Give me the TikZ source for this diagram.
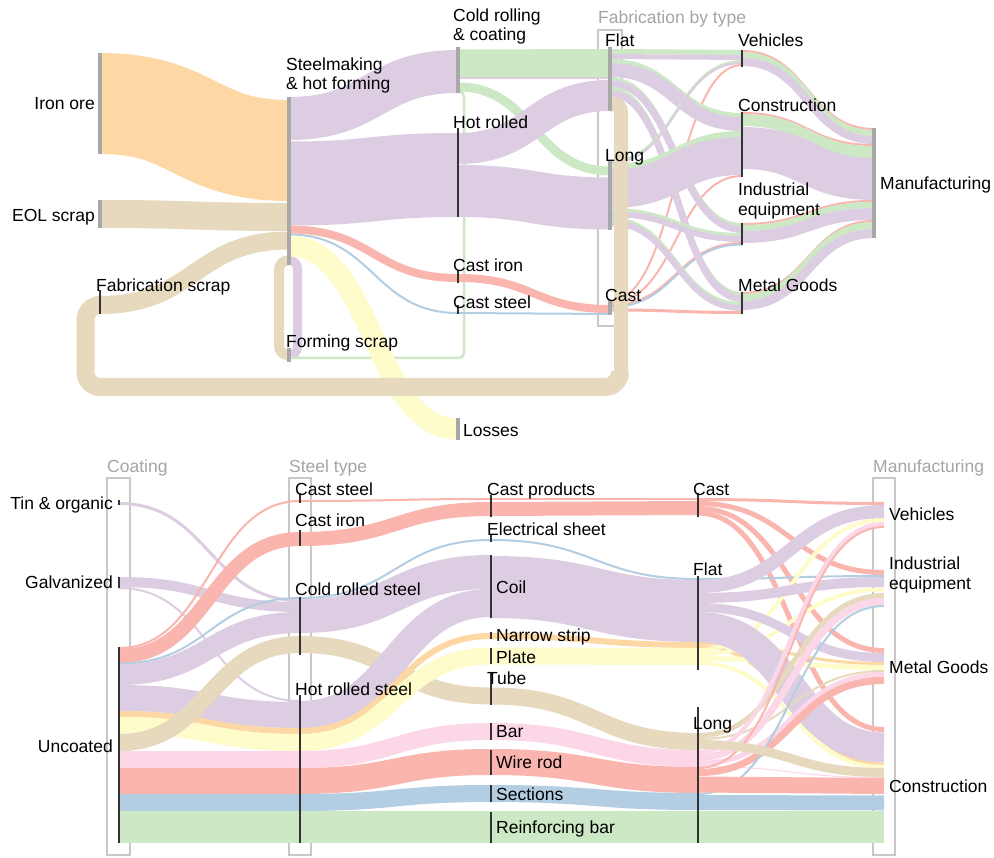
\documentclass[tikz,border=0pt]{standalone}
\usepackage{fontspec}
\setmainfont{Liberation Sans}
\definecolor{cPur}{HTML}{DCCDE3}
\definecolor{cGrn}{HTML}{CCE8C5}
\definecolor{cBei}{HTML}{E6D9BD}
\definecolor{cRed}{HTML}{F9B5AE}
\definecolor{cBlu}{HTML}{B3CDE2}
\definecolor{cYel}{HTML}{FEFCCB}
\definecolor{cPnk}{HTML}{FBD7E8}
\definecolor{cOra}{HTML}{FDD8A4}
\definecolor{cBar}{HTML}{A8A8A8}
\definecolor{cBox}{HTML}{C8C8C8}
\definecolor{cTit}{HTML}{A5A5A5}
\definecolor{cTick}{HTML}{333333}
\newcommand\lk[6]{\draw[#1,line width=#2pt] (#3,#4) .. controls ({(#3+#5)/2},#4) and ({(#3+#5)/2},#6) .. (#5,#6);}
\newcommand\gb[3]{\fill[cBar] ({#1-2.2},#2) rectangle ({#1+2.2},#3);}
\newcommand\tk[3]{\draw[tickline] (#1,#2) -- (#1,#3);}
\begin{document}
\begin{tikzpicture}[x=1pt,y=-1pt,
 lbl/.style={font=\fontsize{17.5}{20}\selectfont, inner sep=0pt, anchor=base west},
 lblr/.style={lbl, anchor=base east},
 ttl/.style={lbl, text=cTit},
 tickline/.style={draw=cTick, line width=1.1pt},
 boxs/.style={draw=cBox, line width=1.2pt}]
\useasboundingbox (0,0) rectangle (994,858);
\fill[white] (0,0) rectangle (994,858);

% boxes
\draw[boxs] (598,30) rectangle (622,326);
\draw[boxs] (107,478) rectangle (130,855);
\draw[boxs] (289,478) rectangle (311,855);
\draw[boxs] (873,478) rectangle (895,855);

% ================= TOP =================
\lk{cOra}{101}{100}{103.5}{289}{150.5}
\lk{cBei}{28}{100}{214}{289}{217}
\lk{cBei}{18}{100}{305}{289}{240.5}
\draw[cBei,line width=10pt,rounded corners=9pt] (289,260.5) -- (279,260.5) -- (279,355) -- (289,355);
\draw[cPur,line width=9pt,rounded corners=8pt] (289,260.5) -- (297.5,260.5) -- (297.5,355) -- (289,355);
\draw[cGrn,line width=2.5pt,rounded corners=5pt] (458,91.5) -- (464,91.5) -- (464,358) -- (289,358);
\lk{cPur}{43}{289}{118.5}{458}{71.5}
\lk{cPur}{84}{289}{183.5}{458}{175}
\lk{cRed}{8}{289}{229.5}{458}{278}
\lk{cBlu}{2}{289}{234.5}{458}{313}
\lk{cYel}{21}{289}{246}{458}{429}
\lk{cRed}{8}{458}{278}{610}{309}
\lk{cBlu}{2}{458}{313}{610}{314}
\lk{cGrn}{28}{458}{63.5}{610}{63}
\lk{cPur}{2}{458}{78.5}{610}{78.5}
\lk{cGrn}{9}{458}{87}{610}{171}
\lk{cPur}{31}{458}{148.5}{610}{95.5}
\lk{cPur}{52}{458}{191}{610}{203.5}

% Cast -> sectors
\lk{cRed}{2}{610}{301}{742}{65}
\lk{cRed}{2}{610}{303}{742}{176}
\lk{cRed}{2}{610}{305}{742}{243}
\lk{cBlu}{2}{610}{307}{742}{244.5}
\lk{cRed}{3}{610}{310}{742}{312.5}
% Flat -> sectors
\lk{cGrn}{5}{610}{51.5}{742}{52.5}
\lk{cPur}{5}{610}{56.5}{742}{57.5}
\lk{cGrn}{4}{610}{61}{742}{115}
\lk{cPur}{14}{610}{70}{742}{124}
\lk{cGrn}{3}{610}{78.5}{742}{224.5}
\lk{cPur}{7}{610}{83.5}{742}{229.5}
\lk{cGrn}{3}{610}{88.5}{742}{293.5}
\lk{cPur}{7}{610}{93.5}{742}{298.5}
% Long -> sectors
\lk{cGrn}{2}{610}{161}{742}{61}
\lk{cPur}{2}{610}{163}{742}{63}
\lk{cGrn}{3}{610}{209.5}{742}{234.5}
\lk{cPur}{6}{610}{214}{742}{239}
\lk{cGrn}{3}{610}{218.5}{742}{303.5}
\lk{cPur}{6}{610}{223}{742}{308}
\lk{cGrn}{6}{610}{167}{742}{134}
\lk{cPur}{38}{610}{189}{742}{156}
% sectors -> Manufacturing
\lk{cRed}{2}{742}{51}{874}{129}
\lk{cGrn}{6}{742}{55}{874}{133}
\lk{cPur}{8}{742}{62}{874}{140}
\lk{cRed}{2}{742}{113}{874}{145}
\lk{cGrn}{12}{742}{120}{874}{152}
\lk{cPur}{42}{742}{148}{874}{179}
\lk{cRed}{2}{742}{224}{874}{201}
\lk{cGrn}{6}{742}{228}{874}{205}
\lk{cPur}{12}{742}{237}{874}{214}
\lk{cRed}{2}{742}{293}{874}{221}
\lk{cGrn}{7}{742}{297.5}{874}{225.5}
\lk{cPur}{9}{742}{305.5}{874}{233.5}
% fabrication scrap loop
\draw[cBei,line width=14pt,rounded corners=7pt] (610,104.5) -- (621,104.5) -- (621,380);
\draw[cBei,line width=18pt,rounded corners=15pt] (620,372) -- (620,387) -- (85.5,387) -- (85.5,305) -- (100,305);

% top bars and ticks
\gb{100}{53}{154}
\gb{100}{200}{228}
\tk{100}{290}{314}
\gb{289}{97}{265}
\gb{458}{47}{93}
\tk{458}{128}{217}
\tk{458}{270}{283}
\tk{458}{305}{314}
\gb{458}{418}{440}
\gb{289}{348}{362}
\gb{610}{47}{111}
\gb{610}{160}{230}
\gb{610}{300}{315}
\tk{742}{50}{67}
\tk{742}{112}{177}
\tk{742}{223}{245}
\tk{742}{292}{314}
\gb{874}{128}{238}

% top labels
\node[lblr] (ironore) at (95,110) {Iron ore};
\node[lblr] (eol) at (95,222) {EOL scrap};
\node[lbl] (fabscrap) at (96,292) {Fabrication scrap};
\node[lbl] (steel1) at (286,71) {Steelmaking};
\node[lbl] (steel2) at (286,90) {\& hot forming};
\node[lbl] (cold1) at (453,22) {Cold rolling};
\node[lbl] (cold2) at (453,41) {\& coating};
\node[lbl] (hotr) at (453,129) {Hot rolled};
\node[lbl] (castiron) at (453,272) {Cast iron};
\node[lbl] (caststeel) at (453,309) {Cast steel};
\node[lbl] (formscrap) at (286,348) {Forming scrap};
\node[lbl] (losses) at (463,437) {Losses};
\node[ttl] (fabtype) at (598,24) {Fabrication by type};
\node[lbl] (flat) at (605,47) {Flat};
\node[lbl] (long) at (605,162) {Long};
\node[lbl] (cast) at (605,302) {Cast};
\node[lbl] (vehicles) at (738,47) {Vehicles};
\node[lbl] (construction) at (738,112) {Construction};
\node[lbl] (indeq1) at (738,196) {Industrial};
\node[lbl] (indeq2) at (738,216) {equipment};
\node[lbl] (metal) at (738,292) {Metal Goods};
\node[lbl] (manuf) at (880,190) {Manufacturing};

% ================= BOTTOM =================
% Coating -> Steel type
\lk{cPur}{3}{119}{503.5}{300}{600.5}
\lk{cPur}{10}{119}{582}{300}{607}
\lk{cPur}{2}{119}{588}{300}{701}
\lk{cRed}{2}{119}{648}{300}{501}
\lk{cRed}{14}{119}{656}{300}{539}
\lk{cBlu}{2}{119}{663.5}{300}{598}
\lk{cPur}{21}{119}{674.5}{300}{622.5}
\lk{cPur}{26}{119}{698}{300}{715}
\lk{cOra}{6}{119}{714}{300}{731}
\lk{cYel}{17}{119}{725.5}{300}{742.5}
\lk{cBei}{17}{119}{742.5}{300}{644.5}
\lk{cPnk}{17}{119}{759.5}{300}{759.5}
\lk{cRed}{26}{119}{781}{300}{781}
\lk{cBlu}{17}{119}{802.5}{300}{802.5}
\lk{cGrn}{32}{119}{827}{300}{827}
% Steel type -> products
\lk{cRed}{2}{300}{501}{491}{499}
\lk{cRed}{14}{300}{539}{491}{509}
\lk{cBlu}{2}{300}{598}{491}{540}
\lk{cPur}{34}{300}{616}{491}{572}
\lk{cBei}{17}{300}{644.5}{491}{696}
\lk{cPur}{28}{300}{715}{491}{603}
\lk{cOra}{6}{300}{731}{491}{636}
\lk{cYel}{17}{300}{742.5}{491}{656}
\lk{cPnk}{17}{300}{759.5}{491}{731.5}
\lk{cRed}{26}{300}{781}{491}{762}
\lk{cBlu}{17}{300}{802.5}{491}{793.5}
\lk{cGrn}{32}{300}{827}{491}{827}
% products -> fabrication
\lk{cRed}{2}{491}{499}{698}{499}
\lk{cRed}{14}{491}{509}{698}{508}
\lk{cBlu}{2}{491}{540}{698}{579}
\lk{cPur}{62}{491}{587}{698}{611}
\lk{cOra}{6}{491}{636}{698}{645}
\lk{cYel}{17}{491}{656}{698}{656.5}
\lk{cBei}{17}{491}{696}{698}{741.5}
\lk{cPnk}{17}{491}{731.5}{698}{758.5}
\lk{cRed}{26}{491}{762}{698}{780}
\lk{cBlu}{17}{491}{793.5}{698}{801.5}
\lk{cGrn}{32}{491}{827}{698}{827}
% Cast -> sectors
\lk{cRed}{3}{698}{499.5}{884}{503.5}
\lk{cRed}{5}{698}{503.5}{884}{572.5}
\lk{cRed}{5}{698}{508.5}{884}{650.5}
\lk{cRed}{5}{698}{513}{884}{729.5}
% Flat -> sectors
\lk{cBlu}{2}{698}{579}{884}{576}
\lk{cOra}{3}{698}{643.5}{884}{663.5}
\lk{cOra}{3}{698}{646.5}{884}{764}
\lk{cYel}{4}{698}{650}{884}{520}
\lk{cYel}{4}{698}{654}{884}{589.5}
\lk{cYel}{5}{698}{658.5}{884}{667.5}
\lk{cYel}{4}{698}{663}{884}{767}
\lk{cPur}{13}{698}{586.5}{884}{511.5}
\lk{cPur}{10}{698}{598}{884}{582}
\lk{cPur}{9}{698}{607.5}{884}{657.5}
\lk{cPur}{30}{698}{627}{884}{747.5}
% Long -> sectors
\lk{cBei}{5}{698}{735.5}{884}{595.5}
\lk{cBei}{2}{698}{739}{884}{671}
\lk{cPnk}{4}{698}{752}{884}{524}
\lk{cPnk}{7}{698}{757.5}{884}{601.5}
\lk{cPnk}{5}{698}{763.5}{884}{674.5}
\lk{cPnk}{1}{698}{766.5}{884}{777.5}
\lk{cRed}{2}{698}{768}{884}{527}
\lk{cRed}{7}{698}{772.5}{884}{680.5}
\lk{cBlu}{2}{698}{794}{884}{606}
\lk{cBei}{9}{698}{744.5}{884}{772.5}
\lk{cRed}{16}{698}{784.5}{884}{786}
\lk{cBlu}{15}{698}{802.5}{884}{803}
\lk{cGrn}{32}{698}{827}{884}{827}

% bottom ticks
\tk{119}{500}{505}
\tk{119}{577}{588}
\tk{119}{647}{843}
\tk{300}{493}{503}
\tk{300}{530}{546}
\tk{300}{597}{655}
\tk{300}{695}{843}
\tk{491}{495}{517}
\tk{491}{535}{542}
\tk{491}{555}{618}
\tk{491}{632}{639}
\tk{491}{648}{664}
\tk{491}{673}{705}
\tk{491}{723}{740}
\tk{491}{750}{775}
\tk{491}{785}{802}
\tk{491}{812}{843}
\tk{698}{493}{517}
\tk{698}{576}{670}
\tk{698}{707}{843}

% bottom labels
\node[ttl] (tcoat) at (107,473) {Coating};
\node[lblr] (tin) at (113,510) {Tin \& organic};
\node[lblr] (galv) at (113,588) {Galvanized};
\node[lblr] (unc) at (113,752) {Uncoated};
\node[ttl] (tstt) at (289,473) {Steel type};
\node[lbl] (csteel) at (295,496) {Cast steel};
\node[lbl] (ciron) at (295,527) {Cast iron};
\node[lbl] (crs) at (295,595) {Cold rolled steel};
\node[lbl] (hrs) at (295,695) {Hot rolled steel};
\node[lbl] (cprod) at (487,496) {Cast products};
\node[lbl] (esheet) at (487,536) {Electrical sheet};
\node[lbl] (coil) at (496,593) {Coil};
\node[lbl] (nstrip) at (496,641) {Narrow strip};
\node[lbl] (plate) at (496,663) {Plate};
\node[lbl] (tube) at (487,684) {Tube};
\node[lbl] (bar) at (496,737) {Bar};
\node[lbl] (wrod) at (496,768) {Wire rod};
\node[lbl] (sect) at (496,800) {Sections};
\node[lbl] (rebar) at (496,833) {Reinforcing bar};
\node[lbl] (bcast) at (693,496) {Cast};
\node[lbl] (bflat) at (693,575) {Flat};
\node[lbl] (blong) at (693,729) {Long};
\node[ttl] (tman) at (873,473) {Manufacturing};
\node[lbl] (veh) at (889,521) {Vehicles};
\node[lbl] (ind1) at (889,569) {Industrial};
\node[lbl] (ind2) at (889,589) {equipment};
\node[lbl] (mg) at (889,673) {Metal Goods};
\node[lbl] (con) at (889,792) {Construction};
\end{tikzpicture}
\end{document}
